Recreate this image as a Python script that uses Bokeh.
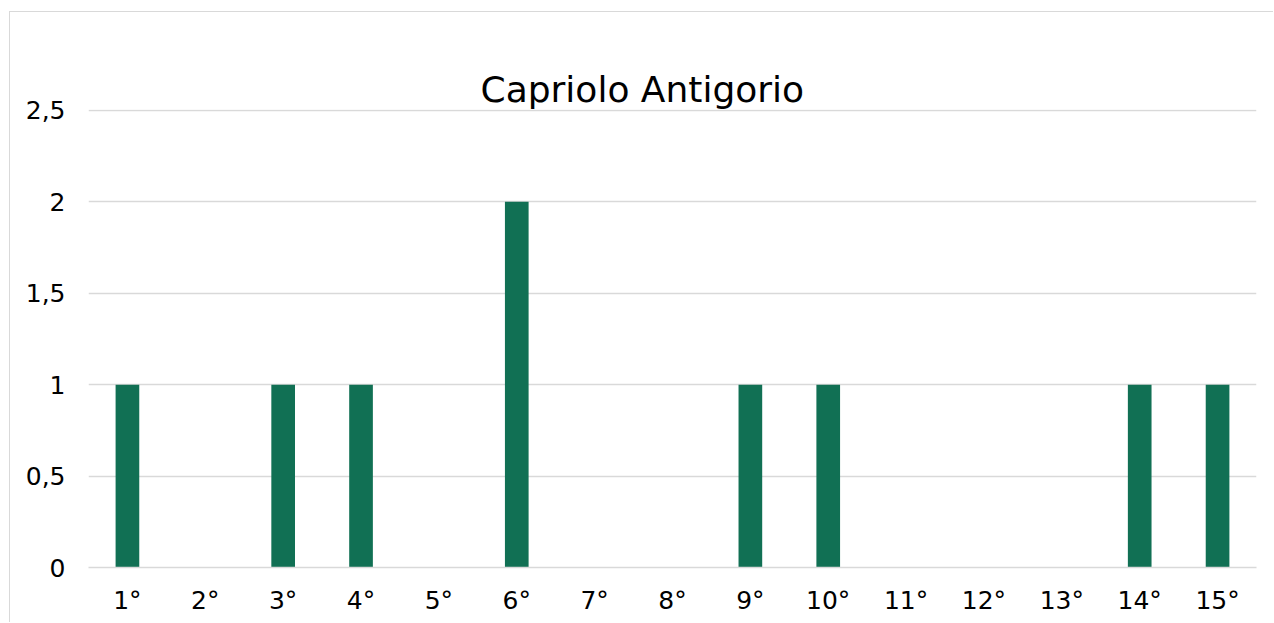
from bokeh.plotting import figure
from bokeh.models import FactorRange, Range1d, FixedTicker, ColumnDataSource, Title
from bokeh.embed import file_html
from bokeh.resources import INLINE

categories = ["1°", "2°", "3°", "4°", "5°", "6°", "7°", "8°", "9°", "10°",
              "11°", "12°", "13°", "14°", "15°"]
values = [1, 0, 1, 1, 0, 2, 0, 0, 1, 1, 0, 0, 0, 1, 1]
y_ticks = [0, 0.5, 1, 1.5, 2, 2.5]
y_tick_labels = ["0", "0,5", "1", "1,5", "2", "2,5"]
title_text = "Capriolo Antigorio"

FONT = "DejaVu Sans"
GRID = "#d9d9d9"
BAR = "#117054"

src = ColumnDataSource(dict(cat=categories, val=values))

p = figure(
    x_range=FactorRange(*categories, range_padding=0),
    y_range=Range1d(0, 2.505),
    width=1264, height=611,
    output_backend="svg", toolbar_location=None,
    min_border_left=78, min_border_right=18,
    min_border_top=97, min_border_bottom=56,
)
p.margin = (11, 0, 0, 9)
p.styles = {"border-left": "1px solid #d9d9d9", "border-top": "1px solid #d9d9d9"}

p.vbar(x="cat", top="val", width=0.304, source=src, fill_color=BAR, line_color=None)

p.title.text = ""
p.title.standoff = 0

main_title = Title(text=title_text, text_font=FONT, text_font_size="36px",
                   text_font_style="normal", text_color="#000000",
                   align="left", offset=392, standoff=0)
p.add_layout(main_title, "above")

# invisible spacer between the title and the plot frame (last added sits closest to the frame)
spacer = Title(text=".", text_font=FONT, text_font_size="10px", text_alpha=0,
               text_color="white", standoff=21)
p.add_layout(spacer, "above")

p.outline_line_color = None
p.background_fill_color = "white"
p.border_fill_color = "white"

p.xgrid.grid_line_color = None
p.ygrid.grid_line_color = GRID
p.ygrid.grid_line_width = 1.5
p.yaxis.ticker = FixedTicker(ticks=y_ticks)
p.yaxis.major_label_overrides = {t: l for t, l in zip(y_ticks, y_tick_labels)}

for ax in (p.xaxis, p.yaxis):
    ax.major_tick_line_color = None
    ax.minor_tick_line_color = None
    ax.major_tick_out = 0
    ax.major_tick_in = 0
    ax.major_label_text_font = FONT
    ax.major_label_text_font_size = "25px"
    ax.major_label_text_color = "#000000"

p.yaxis.axis_line_color = None
p.yaxis.major_label_standoff = 23
p.xaxis.axis_line_color = GRID
p.xaxis.axis_line_width = 1.5
p.xaxis.major_label_standoff = 18

open("out.html", "w").write(file_html(p, INLINE))
